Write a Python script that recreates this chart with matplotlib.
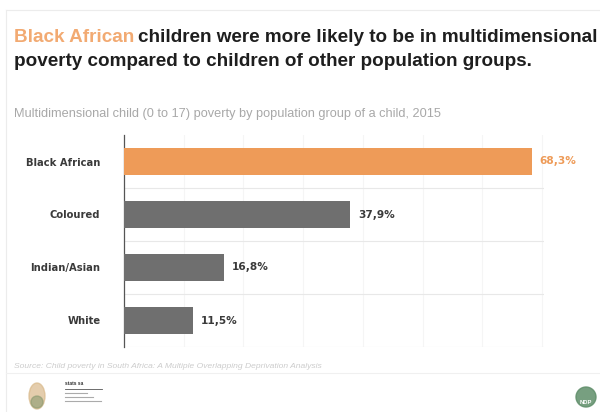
import matplotlib.pyplot as plt
from matplotlib.patches import Ellipse, Circle
import numpy as np

# Poverty rate per population group, 2015
groups = ["Black African", "Coloured", "Indian/Asian", "White"]
rates = [68.3, 37.9, 16.8, 11.5]
rate_labels = ["68,3%", "37,9%", "16,8%", "11,5%"]

ORANGE = "#EE9B58"
GREY = "#6F6F6F"
TEXT = "#3A3A3A"

plt.rcParams['font.family'] = ['Liberation Sans', 'DejaVu Sans']

fig = plt.figure(figsize=(6, 4.12), dpi=100)
W, H = 600, 412


def fx(px):
    return px / W


def fy(py):
    return 1 - py / H


# Slide frame lines
fig.add_artist(plt.Line2D([fx(6), fx(600)], [fy(10), fy(10)], color="#ececec", lw=0.8))
fig.add_artist(plt.Line2D([fx(6), fx(6)], [fy(10), fy(412)], color="#ececec", lw=0.8))
fig.add_artist(plt.Line2D([fx(6), fx(600)], [fy(373), fy(373)], color="#f0f0f0", lw=0.8))

# Headline, first words highlighted
t1 = fig.text(fx(14), fy(38), "Black African", color="#F2AA72", fontsize=13.6,
              fontweight="bold", va="center", ha="left")
fig.canvas.draw()
bb = t1.get_window_extent()
fig.text(bb.x1 / W + fx(4), fy(38), "children were more likely to be in multidimensional",
         color="#1e1e1e", fontsize=13.6, fontweight="bold", va="center", ha="left")
fig.text(fx(14), fy(61), "poverty compared to children of other population groups.",
         color="#1e1e1e", fontsize=13.6, fontweight="bold", va="center", ha="left")

fig.text(fx(14), fy(114), "Multidimensional child (0 to 17) poverty by population group of a child, 2015",
         color="#a8a8a8", fontsize=9.2, va="center", ha="left")

fig.text(fx(14), fy(367), "Source: Child poverty in South Africa: A Multiple Overlapping Deprivation Analysis",
         color="#cccccc", fontsize=6.1, style="italic", va="center", ha="left")

# Chart
ax = fig.add_axes([fx(124), fy(347), fx(544 - 124), (347 - 135) / H])
y = np.arange(len(groups))
colors = [ORANGE] + [GREY] * (len(groups) - 1)
ax.barh(y, rates, height=0.51, color=colors, zorder=3)

ax.set_xlim(0, 70.35)
ax.set_ylim(len(groups) - 0.5, -0.5)
ax.set_yticks(y)
ax.set_yticklabels(groups, fontsize=7.2, fontweight="bold", color=TEXT, family=["DejaVu Sans"])
ax.tick_params(axis="y", length=0, pad=17)
ax.set_xticks(np.arange(10, 71, 10))
ax.tick_params(axis="x", length=0, labelbottom=False)
ax.set_yticks(np.arange(0.5, len(groups), 1), minor=True)
ax.tick_params(axis="y", which="minor", length=0)
ax.grid(axis="x", which="major", color="#f5f5f5", lw=0.8, zorder=0)
ax.grid(axis="y", which="minor", color="#e8e8e8", lw=0.8, zorder=0)

for side in ["top", "right", "bottom"]:
    ax.spines[side].set_visible(False)
ax.spines["left"].set_color("#555555")
ax.spines["left"].set_linewidth(0.9)

for i, (v, lab) in enumerate(zip(rates, rate_labels)):
    ax.text(v + 1.3, i, lab, va="center", ha="left", fontsize=7.6, fontweight="bold",
            color=ORANGE if i == 0 else TEXT, family=["DejaVu Sans"], zorder=4)

# Footer emblems
logo = fig.add_axes([0, 0, 1, 1], facecolor="none")
logo.set_xlim(0, W)
logo.set_ylim(H, 0)
logo.axis("off")
logo.add_patch(Ellipse((37, 396), 16, 26, color="#d9b98a", alpha=0.7))
logo.add_patch(Ellipse((37, 402), 12, 12, color="#8a9a70", alpha=0.6))
logo.plot([65, 102], [389, 389], color="#555555", lw=0.6)
logo.text(65, 385, "stats sa", fontsize=3.5, color="#333333", fontweight="bold")
for yy, ww in [(393, 22), (397, 28), (401, 36)]:
    logo.plot([65, 65 + ww], [yy, yy], color="#888888", lw=0.8, alpha=0.7)
logo.add_patch(Circle((586, 397), 10, color="#5f8e6a", alpha=0.85))
logo.text(586, 402, "NDP", fontsize=4.2, color="#ffffff", fontweight="bold", ha="center", va="center")

fig.savefig("out.png", dpi=100, facecolor="white")
